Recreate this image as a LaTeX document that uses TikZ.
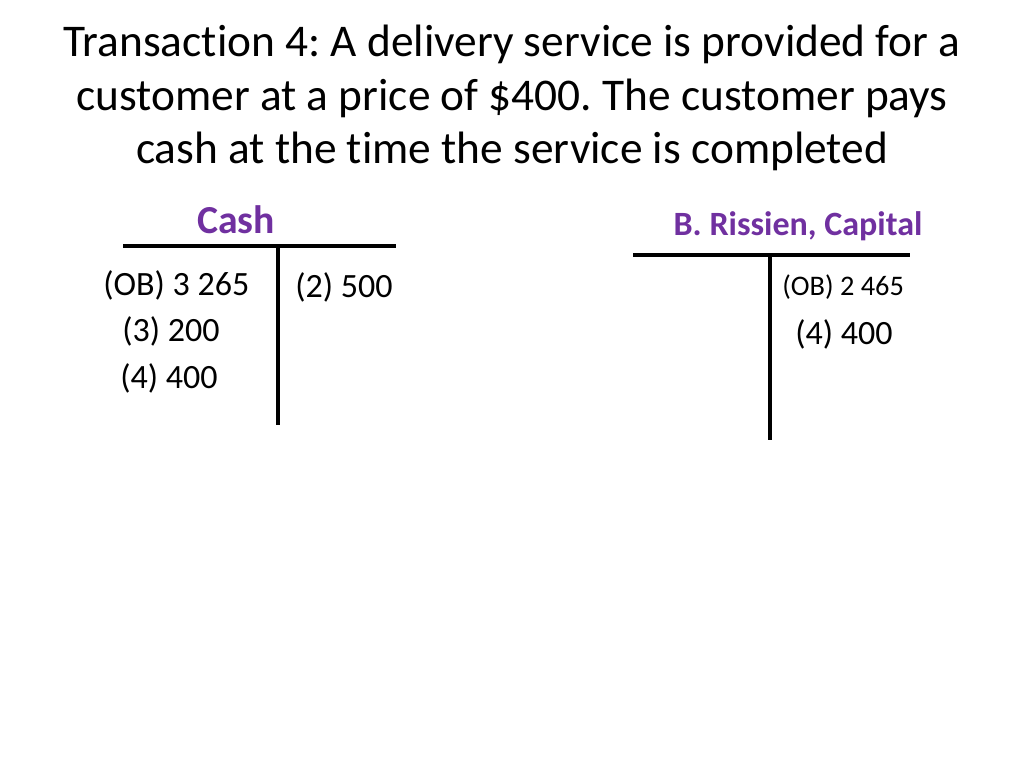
\documentclass[tikz,border=0pt]{standalone}
\usepackage{fontspec}
\setmainfont[Ligatures=CommonOff]{Carlito}
\definecolor{accpurple}{RGB}{112,48,160}
\frenchspacing

\begin{document}
\begin{tikzpicture}[x=0.0248cm, y=-0.0248cm,
  entry/.style={anchor=west, inner sep=0pt, font=\fontsize{24}{28}\selectfont},
  small entry/.style={anchor=west, inner sep=0pt, font=\fontsize{20}{24}\selectfont},
  tline/.style={line width=2.4pt, black}]
\useasboundingbox[fill=white] (0,0) rectangle (1024,768);

% title
\node[align=center, inner sep=0pt, font=\fontsize{32}{37.5}\selectfont] (title) at (512,98)
  {Transaction 4: A delivery service is provided for a\\
   customer at a price of \$400. The customer pays\\
   cash at the time the service is completed};

% cash account
\node[inner sep=0pt, text=accpurple, font=\bfseries\fontsize{28}{32}\selectfont] (cashname) at (236,220) {Cash};
\coordinate (cashL) at (123,246); \coordinate (cashR) at (396,246);
\coordinate (cashT) at (278,246); \coordinate (cashB) at (278,425);
\draw[tline] (cashL) -- (cashR);
\draw[tline] (cashT) -- (cashB);
\node[entry] (cashob) at (103,285) {(OB) 3 265};
\node[entry] (cash2) at (295,287) {(2) 500};
\node[entry] (cash3) at (122,331) {(3) 200};
\node[entry] (cash4) at (120,378) {(4) 400};

% capital account
\node[inner sep=0pt, text=accpurple, font=\bfseries\fontsize{24}{28}\selectfont] (capname) at (798,226) {B. Rissien, Capital};
\coordinate (capL) at (633,255); \coordinate (capR) at (910,255);
\coordinate (capT) at (770,255); \coordinate (capB) at (770,440);
\draw[tline] (capL) -- (capR);
\draw[tline] (capT) -- (capB);
\node[small entry] (capob) at (782,287) {(OB) 2 465};
\node[entry] (cap4) at (795,334) {(4) 400};

\end{tikzpicture}
\end{document}
